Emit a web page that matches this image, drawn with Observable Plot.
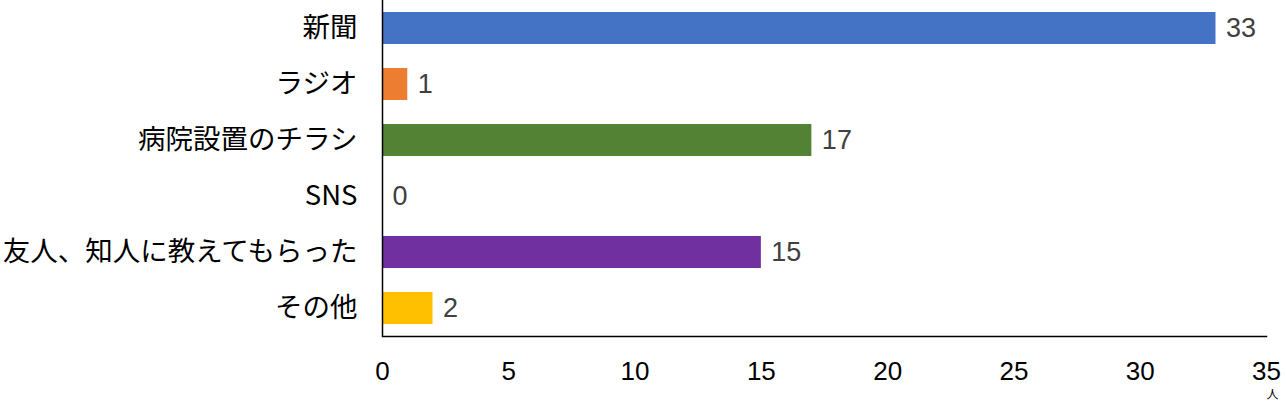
<!DOCTYPE html>
<html><head><meta charset="utf-8">
<script src="https://cdn.jsdelivr.net/npm/d3@7"></script>
<script src="https://cdn.jsdelivr.net/npm/@observablehq/plot@0.6"></script>
<style>body{margin:0;background:#fff;} svg{display:block;}</style>
</head><body><div id="chart"></div>
<script>
const categories = ["新聞","ラジオ","病院設置のチラシ","SNS","友人、知人に教えてもらった","その他"];
const values = [33,1,17,0,15,2];
const colors = ["#4472C4","#ED7D31","#548235","#A5A5A5","#7030A0","#FFC000"];
const xTicks = [0,5,10,15,20,25,30,35];
const unitLabel = "人";

const data = categories.map((c,i)=>({cat:c, v:values[i], col:colors[i]}));
const jp = "'Noto Sans CJK JP', sans-serif";
const num = "'Liberation Sans', Arial, sans-serif";

const chart = Plot.plot({
  width:1286, height:402,
  marginLeft:382, marginRight:20, marginTop:0, marginBottom:66,
  style:{background:"#fff", overflow:"visible"},
  x:{domain:[0,35], ticks:xTicks, label:null},
  y:{domain:categories, paddingInner:0.43, paddingOuter:0.215, label:null},
  marks:[
    Plot.barX(data,{x:"v", y:"cat", fill:"col"}),
    Plot.text(data,{x:"v", y:"cat", text:d=>String(d.v), textAnchor:"start", dx:10, fill:"#404040", fontSize:27, fontFamily:num, style:"font-stretch:condensed"}),
    Plot.axisY({tickSize:0, tickPadding:25, fontSize:27.5, fontFamily:jp, fill:"#000"}),
    Plot.axisX({ticks:xTicks, tickSize:0, tickPadding:25, fontSize:26, fontFamily:num, fill:"#000"}),
    Plot.ruleX([0],{stroke:"#000", strokeWidth:1.5}),
    Plot.frame({anchor:"bottom", stroke:"#000", strokeWidth:1.5}),
    Plot.text([unitLabel],{frameAnchor:"bottom-right", dx:12, dy:62, fontSize:12, fontFamily:jp, fill:"#000"})
  ]
});
document.getElementById("chart").append(chart);
</script></body></html>
